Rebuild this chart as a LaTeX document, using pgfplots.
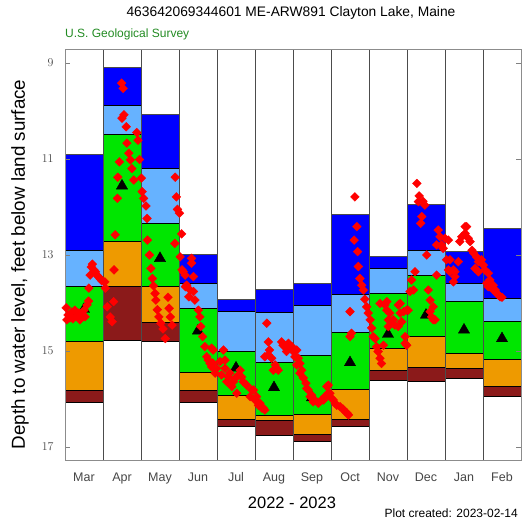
\documentclass[border=0pt]{standalone}
\usepackage{fontspec}
\setmainfont{Liberation Sans}
\usepackage{pgfplots}
\usepackage{pgfplotstable}
\pgfplotsset{compat=1.18}
\definecolor{pblue}{RGB}{0,0,255}
\definecolor{plblue}{RGB}{102,178,255}
\definecolor{pgreen}{RGB}{0,230,0}
\definecolor{porange}{RGB}{238,154,0}
\definecolor{pdred}{RGB}{139,26,26}
\definecolor{usgsgreen}{RGB}{34,139,34}
\definecolor{labgray}{RGB}{70,70,70}

% monthly percentile bands (depth, ft below land surface)
\pgfplotstableread{
x    top   lb    gr    or    dr    bot   med
0.5  10.90 12.90 13.66 14.79 15.82 16.06 14.13
1.5  9.09  9.89  10.49 12.71 13.66 14.78 11.56
2.5  10.07 11.19 12.35 13.65 14.41 14.79 13.07
3.5  12.99 13.59 14.12 15.44 15.82 16.07 14.58
4.5  13.92 14.17 15.01 15.93 16.42 16.56 15.35
5.5  13.71 14.19 15.24 16.35 16.45 16.75 15.76
6.5  13.59 14.04 15.10 16.33 16.74 16.88 15.97
7.5  12.15 13.83 14.61 15.79 16.42 16.58 15.24
8.5  13.03 13.28 13.81 14.94 15.40 15.62 14.65
9.5  11.94 12.91 13.43 14.69 15.34 15.64 14.25
10.5 12.92 13.59 13.97 15.05 15.36 15.58 14.56
11.5 12.45 13.90 14.38 15.17 15.74 15.95 14.74
}\pct

% daily measurements
\pgfplotstableread{
x d
0.03 14.10
0.05 14.35
0.08 14.25
0.13 14.31
0.18 14.19
0.21 14.33
0.26 14.15
0.32 14.27
0.37 14.21
0.39 14.35
0.42 14.31
0.47 14.25
0.50 14.15
0.53 14.29
0.58 14.04
0.62 13.96
0.63 13.69
0.66 13.42
0.69 13.25
0.72 13.19
0.76 13.31
0.80 13.35
0.84 13.42
0.89 13.46
0.93 13.50
0.97 13.54
1.05 13.56
1.06 13.69
1.11 14.08
1.19 14.29
1.24 14.39
1.28 13.97
1.29 13.31
1.32 12.58
1.38 11.82
1.39 11.38
1.43 11.06
1.49 9.42
1.53 9.53
1.50 10.15
1.55 10.08
1.61 10.33
1.63 10.67
1.68 10.88
1.72 11.02
1.76 11.20
1.81 11.44
1.89 10.45
1.92 10.61
1.96 11.01
2.01 11.40
2.03 11.68
2.07 11.82
2.13 11.98
2.16 12.24
2.17 12.69
2.22 13.00
2.26 13.28
2.30 13.49
2.33 13.64
2.37 13.80
2.39 13.94
2.43 14.14
2.47 14.29
2.52 14.42
2.58 14.54
2.64 14.74
2.71 13.88
2.74 14.11
2.77 14.29
2.82 14.46
2.89 12.76
2.90 11.38
2.93 11.79
2.96 12.05
3.01 12.13
3.03 13.04
3.07 12.56
3.08 13.31
3.11 13.35
3.16 13.42
3.17 13.66
3.20 13.63
3.26 13.87
3.29 13.73
3.33 13.07
3.33 13.17
3.38 13.45
3.38 13.76
3.42 13.94
3.51 14.15
3.55 14.29
3.57 14.49
3.62 14.70
3.68 14.91
3.73 15.12
3.77 15.19
3.82 15.26
3.86 14.94
3.90 14.98
3.86 15.33
3.89 15.25
3.95 15.46
3.99 15.36
4.08 15.22
4.12 15.50
4.17 14.98
4.21 15.19
4.21 15.36
4.26 15.64
4.30 15.54
4.34 15.46
4.39 15.74
4.43 15.64
4.47 15.57
4.52 15.88
4.56 15.50
4.61 15.40
4.65 15.54
4.69 15.64
4.78 15.71
4.87 15.95
4.91 15.81
4.96 15.81
5.00 16.02
5.04 15.95
5.09 16.13
5.13 16.09
5.18 16.19
5.22 16.19
5.26 16.23
5.26 15.12
5.31 14.42
5.35 14.81
5.38 14.98
5.35 15.08
5.44 15.15
5.48 15.40
5.53 15.29
5.57 15.36
5.61 15.40
5.70 14.81
5.74 14.88
5.79 14.91
5.83 15.01
5.88 14.84
5.92 14.91
5.97 14.91
6.01 15.01
6.05 15.12
6.10 14.98
6.10 15.29
6.14 15.15
6.18 15.26
6.18 15.46
6.23 15.40
6.27 15.56
6.34 15.67
6.36 15.78
6.40 15.81
6.45 15.95
6.49 15.92
6.53 16.06
6.58 16.02
6.67 16.09
6.75 16.02
6.80 16.02
6.84 15.95
6.89 15.74
6.93 15.71
6.93 15.88
6.97 15.88
7.02 15.99
7.06 16.02
7.11 16.09
7.15 16.13
7.24 16.16
7.32 16.21
7.37 16.26
7.42 16.29
7.46 16.33
7.50 14.18
7.50 14.70
7.54 14.63
7.63 11.79
7.68 12.41
7.61 12.69
7.70 12.93
7.72 13.24
7.76 13.49
7.81 13.63
7.85 13.73
7.89 13.92
7.94 14.08
7.98 14.21
8.03 14.35
8.07 14.52
8.11 14.70
8.16 14.74
8.20 14.91
8.24 15.01
8.29 15.15
8.33 15.26
8.38 14.88
8.29 14.01
8.42 14.04
8.47 13.97
8.47 14.15
8.51 14.35
8.51 14.49
8.55 14.21
8.60 14.42
8.64 14.35
8.68 14.46
8.77 14.49
8.77 14.04
8.82 14.01
8.82 14.21
8.86 14.39
8.91 14.18
8.95 14.70
8.95 14.84
8.99 14.88
8.99 14.15
9.03 14.15
9.08 13.76
9.12 13.52
9.17 13.73
9.21 13.35
9.26 11.51
9.30 11.89
9.32 11.77
9.36 12.34
9.39 12.20
9.42 11.88
9.47 11.96
9.52 13.00
9.56 13.73
9.61 13.94
9.61 14.18
9.65 14.29
9.69 14.08
9.69 14.35
9.74 14.35
9.78 13.42
9.78 12.79
9.82 12.48
9.87 12.62
9.91 12.79
9.95 12.86
10.00 12.65
10.04 13.10
10.09 12.69
10.09 13.31
10.13 13.35
10.13 13.10
10.22 13.31
10.26 13.45
10.22 13.56
10.26 13.35
10.35 13.14
10.39 12.72
10.44 12.62
10.53 12.41
10.57 12.41
10.53 12.55
10.61 12.65
10.66 12.72
10.71 12.90
10.75 12.96
10.79 13.28
10.83 13.04
10.88 13.14
10.88 13.35
10.96 13.10
11.01 13.21
11.05 13.31
11.10 13.59
11.14 13.38
11.14 13.66
11.18 13.52
11.18 13.66
11.27 13.63
11.27 13.73
11.32 13.73
11.36 13.80
11.40 13.83
11.45 13.87
11.50 13.88
}\daily

\begin{document}
\begin{tikzpicture}
\path[use as bounding box] (0,0) rectangle (525bp,531bp);
\begin{axis}[
  at={(65bp,71bp)}, anchor=south west,
  scale only axis, width=456bp, height=411bp,
  xmin=0, xmax=12, ymin=8.71, ymax=17.27, y dir=reverse,
  axis on top,
  axis line style={black!45, line width=0.8bp},
  xtick={0.5,1.5,2.5,3.5,4.5,5.5,6.5,7.5,8.5,9.5,10.5,11.5},
  xticklabels={Mar,Apr,May,Jun,Jul,Aug,Sep,Oct,Nov,Dec,Jan,Feb},
  major x tick style={draw=none},
  minor xtick={1,2,3,4,5,6,7,8,9,10,11},
  minor tick length=0pt,
  xminorgrids,
  minor grid style={black!70, line width=0.8bp},
  ytick={9,11,13,15,17},
  tick align=inside,
  major tick length=5bp,
  major y tick style={black!50, line width=0.8bp},
  xticklabel style={font=\fontsize{12.5bp}{14bp}\selectfont, text=labgray, yshift=-9bp},
  yticklabel style={font=\fontsize{12.5bp}{14bp}\selectfont, text=labgray, xshift=-8bp},
]
\addplot[ybar, bar width=1, bar shift=0pt, fill=pdred, draw=black, line width=0.8bp] table[x=x,y=bot]{\pct};
\addplot[ybar, bar width=1, bar shift=0pt, fill=porange, draw=black, line width=0.8bp] table[x=x,y=dr]{\pct};
\addplot[ybar, bar width=1, bar shift=0pt, fill=pgreen, draw=black, line width=0.8bp] table[x=x,y=or]{\pct};
\addplot[ybar, bar width=1, bar shift=0pt, fill=plblue, draw=black, line width=0.8bp] table[x=x,y=gr]{\pct};
\addplot[ybar, bar width=1, bar shift=0pt, fill=pblue, draw=black, line width=0.8bp] table[x=x,y=lb]{\pct};
\addplot[ybar, bar width=1, bar shift=0pt, fill=white, draw=black!70, line width=0.8bp] table[x=x,y=top]{\pct};
\addplot[only marks, mark=triangle*, mark size=6.5bp, mark options={fill=black, draw=black}] table[x=x,y=med]{\pct};
\addplot[only marks, mark=square*, mark size=3.1bp, mark options={rotate=45, fill=red, draw=red}] table[x=x,y=d]{\daily};
\end{axis}
\node[font=\fontsize{13.8bp}{16bp}\selectfont] at (291bp,518bp) {463642069344601 ME-ARW891 Clayton Lake, Maine};
\node[font=\fontsize{12bp}{14bp}\selectfont, text=usgsgreen, anchor=west, inner sep=0pt] at (65bp,497bp) {U.S. Geological Survey};
\node[font=\fontsize{16.5bp}{18bp}\selectfont] at (292bp,28.5bp) {2022 - 2023};
\node[font=\fontsize{12bp}{14bp}\selectfont, anchor=east, inner sep=0pt] at (518bp,18bp) {Plot created: 2023-02-14};
\node[font=\fontsize{18.8bp}{20bp}\selectfont, rotate=90] at (20bp,266.5bp) {Depth to water level, feet below land surface};
\end{tikzpicture}
\end{document}
